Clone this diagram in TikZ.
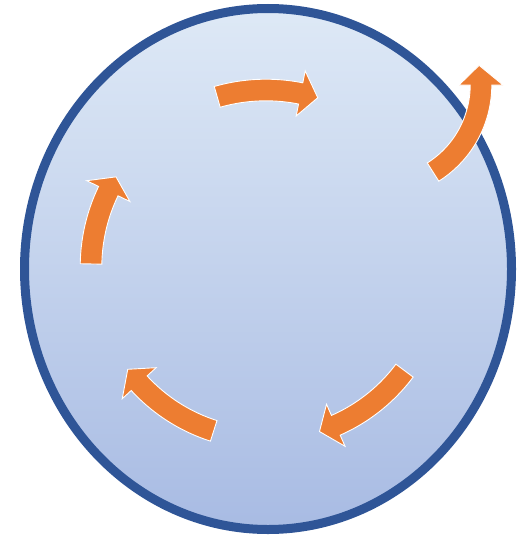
\documentclass[tikz,border=0pt]{standalone}
\usetikzlibrary{calc}
\definecolor{bordblue}{HTML}{2F5597}
\definecolor{filltop}{HTML}{DEE9F6}
\definecolor{fillbot}{HTML}{A8BBE3}
\definecolor{arroworange}{HTML}{ED7D31}
\tikzset{arrowstyle/.style={fill=arroworange, draw=white, line width=0.9pt, line join=miter}}
\newcommand\ringarrow[8]{%
  \filldraw[arrowstyle]
    plot[domain=#4:#5, samples=40, variable=\t] ({#1+(#3+#7)*cos(\t)},{#2+(#3+#7)*sin(\t)})
    -- ({#1+(#3+#8)*cos(#5)},{#2+(#3+#8)*sin(#5)})
    -- ({#1+#3*cos(#6)},{#2+#3*sin(#6)})
    -- ({#1+(#3-#8)*cos(#5)},{#2+(#3-#8)*sin(#5)})
    -- plot[domain=#5:#4, samples=40, variable=\t] ({#1+(#3-#7)*cos(\t)},{#2+(#3-#7)*sin(\t)})
    -- cycle;}
\begin{document}
\begin{tikzpicture}[x=1pt, y=-1pt]
  \useasboundingbox (0,0) rectangle (525,535);
  % big circle
  \shadedraw[top color=filltop, bottom color=fillbot, draw=bordblue, line width=9pt]
    (268,269) ellipse [x radius=243.5, y radius=260.5];
  % ring arrows (clockwise)
  \ringarrow{266}{267}{177}{-106}{-78.7}{-73}{10.8}{23}
  \ringarrow{266}{267}{173}{36.8}{66.2}{72}{10.8}{23}
  \ringarrow{266}{267}{172}{107.7}{137.5}{143.5}{10.8}{23}
  \ringarrow{266}{267}{175}{181}{205.7}{211}{10.8}{24}
  % escaping arrow
  \ringarrow{378}{85}{103}{57.7}{0}{-11}{10.8}{22}
\end{tikzpicture}
\end{document}
